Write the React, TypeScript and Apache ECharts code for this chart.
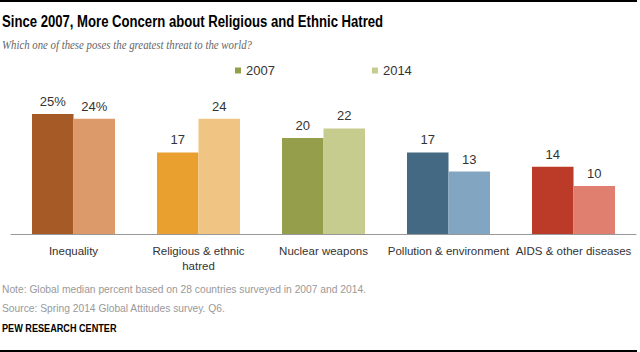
import React, { useEffect, useRef } from "react";
import * as echarts from "echarts";

const categories = ["Inequality", "Religious & ethnic\nhatred", "Nuclear weapons", "Pollution & environment", "AIDS & other diseases"];
const values2007 = [25, 17, 20, 17, 14];
const values2014 = [24, 24, 22, 13, 10];
const colors2007 = ["#A65A26", "#E9A02F", "#959E4A", "#436983", "#BC3A28"];
const colors2014 = ["#DC996A", "#F0C584", "#C6CC8E", "#82A6C1", "#E07E6F"];
const seriesNames = ["2007", "2014"];

const FONT = "'Liberation Sans', Arial, sans-serif";

export default function App() {
  const ref = useRef<HTMLDivElement>(null);
  useEffect(() => {
    if (!ref.current) return;
    const chart = echarts.init(ref.current, undefined, { renderer: "svg" });
    const label = {
      show: true,
      position: "top" as const,
      distance: 6,
      fontFamily: FONT,
      fontSize: 13,
      color: "#333",
      formatter: (p: any) => (p.dataIndex === 0 ? p.value + "%" : String(p.value)),
    };
    chart.setOption({
      animation: false,
      legend: {
        left: 235,
        top: 64,
        padding: 0,
        itemWidth: 6,
        itemHeight: 6,
        itemGap: 97,
        icon: "rect",
        textStyle: { fontFamily: FONT, fontSize: 13, color: "#333" },
        data: seriesNames,
      },
      grid: { left: 11, right: 4, top: 90, bottom: 118, containLabel: false },
      xAxis: {
        type: "category",
        data: categories,
        axisLine: { lineStyle: { color: "#999", width: 1 } },
        axisTick: { show: false },
        axisLabel: { fontFamily: FONT, fontSize: 11.5, color: "#333", margin: 9, lineHeight: 15, interval: 0 },
      },
      yAxis: { type: "value", min: 0, max: 30, show: false, splitLine: { show: false } },
      series: [
        {
          name: seriesNames[0],
          type: "bar",
          barWidth: 41.5,
          barGap: "0%",
          itemStyle: { color: "#959E4A" },
          label,
          data: values2007.map((v, i) => ({ value: v, itemStyle: { color: colors2007[i] } })),
        },
        {
          name: seriesNames[1],
          type: "bar",
          barWidth: 41.5,
          barGap: "0%",
          itemStyle: { color: "#C6CC8E" },
          label,
          data: values2014.map((v, i) => ({ value: v, itemStyle: { color: colors2014[i] } })),
        },
      ],
      graphic: [
        { type: "line", shape: { x1: 0, y1: 1, x2: 637, y2: 1 }, style: { stroke: "#000", lineWidth: 2 } },
        { type: "line", shape: { x1: 0, y1: 351, x2: 637, y2: 351 }, style: { stroke: "#000", lineWidth: 2 } },
        {
          type: "text", x: 2, y: 22, scaleX: 0.82,
          style: { text: "Since 2007, More Concern about Religious and Ethnic Hatred", fontFamily: FONT, fontSize: 16, fontWeight: "bold", fill: "#000", textVerticalAlign: "middle" },
        },
        {
          type: "text", x: 2, y: 45, scaleX: 0.865,
          style: { text: "Which one of these poses the greatest threat to the world?", fontFamily: "'Liberation Serif', Georgia, serif", fontStyle: "italic", fontSize: 12.5, fill: "#666", textVerticalAlign: "middle" },
        },
        {
          type: "text", x: 2, y: 289, scaleX: 0.935,
          style: { text: "Note: Global median percent based on 28 countries surveyed in 2007 and 2014.", fontFamily: FONT, fontSize: 11, fill: "#999", textVerticalAlign: "middle" },
        },
        {
          type: "text", x: 2, y: 308, scaleX: 0.935,
          style: { text: "Source: Spring 2014 Global Attitudes survey. Q6.", fontFamily: FONT, fontSize: 11, fill: "#999", textVerticalAlign: "middle" },
        },
        {
          type: "text", x: 2, y: 328, scaleX: 0.83,
          style: { text: "PEW RESEARCH CENTER", fontFamily: FONT, fontSize: 11, fontWeight: "bold", fill: "#000", textVerticalAlign: "middle" },
        },
      ],
    });
    return () => chart.dispose();
  }, []);
  return <div ref={ref} style={{ width: 640, height: 352, position: "absolute", left: 0, top: 0 }} />;
}
